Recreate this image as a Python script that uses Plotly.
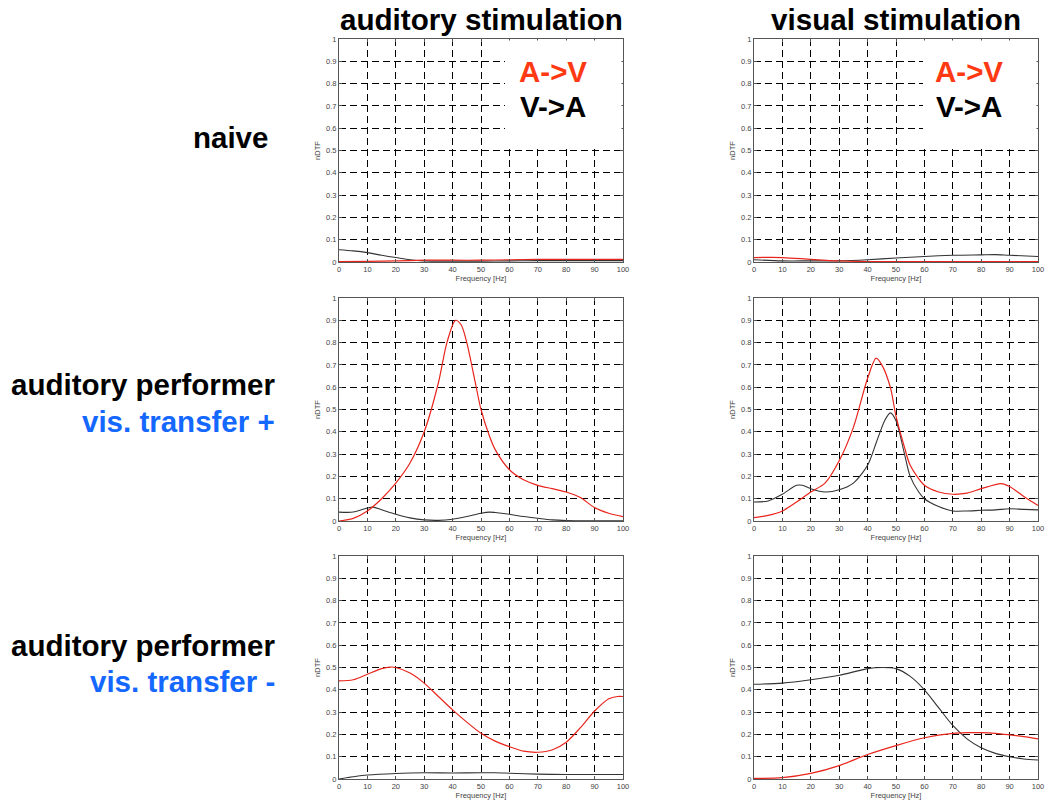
import plotly.graph_objects as go
from plotly.subplots import make_subplots

W, H = 1048, 803

col_titles = ["auditory stimulation", "visual stimulation"]

# Row 1: naive
f_n_a_red = [0, 10, 20, 30, 40, 50, 60, 70, 80, 90, 100]
v_n_a_red = [0.002, 0.003, 0.005, 0.008, 0.008, 0.008, 0.01, 0.012, 0.012, 0.012, 0.012]
f_n_a_blk = [0, 5, 10, 15, 20, 25, 30, 40, 50, 60, 70, 80, 90, 100]
v_n_a_blk = [0.055, 0.05, 0.042, 0.03, 0.02, 0.01, 0.005, 0.004, 0.004, 0.005, 0.006, 0.006, 0.006, 0.006]

f_n_v_red = [0, 10, 20, 30, 40, 50, 60, 70, 80, 90, 100]
v_n_v_red = [0.02, 0.02, 0.012, 0.005, 0.002, 0.002, 0.002, 0.002, 0.002, 0.002, 0.002]
f_n_v_blk = [0, 10, 20, 30, 40, 50, 60, 70, 80, 85, 90, 100]
v_n_v_blk = [0.01, 0.005, 0.005, 0.005, 0.01, 0.018, 0.025, 0.03, 0.032, 0.033, 0.03, 0.025]

# Row 2: auditory performer, vis. transfer +
f_p_a_red = [0, 5, 10, 15, 20, 25, 30, 35, 38, 41, 43, 45, 48, 50, 53, 55, 60, 65, 70, 75, 80, 85, 90, 95, 100]
v_p_a_red = [0.0, 0.012, 0.045, 0.1, 0.17, 0.26, 0.4, 0.62, 0.8, 0.9, 0.88, 0.8, 0.62, 0.5, 0.38, 0.32, 0.23, 0.185, 0.16, 0.145, 0.13, 0.105, 0.06, 0.035, 0.02]
f_p_a_blk = [0, 5, 10, 12, 15, 20, 25, 30, 35, 40, 45, 50, 53, 55, 60, 65, 70, 75, 80, 90, 100]
v_p_a_blk = [0.04, 0.04, 0.058, 0.062, 0.05, 0.03, 0.014, 0.005, 0.003, 0.008, 0.02, 0.035, 0.04, 0.038, 0.03, 0.02, 0.012, 0.005, 0.002, 0.001, 0.001]

f_p_v_red = [0, 5, 10, 15, 20, 25, 30, 35, 40, 43, 45, 48, 50, 53, 55, 60, 65, 70, 75, 80, 87, 90, 95, 100]
v_p_v_red = [0.015, 0.025, 0.045, 0.085, 0.13, 0.17, 0.27, 0.42, 0.64, 0.73, 0.7, 0.6, 0.47, 0.33, 0.25, 0.16, 0.13, 0.12, 0.125, 0.145, 0.168, 0.155, 0.11, 0.07]
f_p_v_blk = [0, 5, 10, 15, 17, 20, 25, 30, 35, 40, 43, 46, 48, 50, 53, 55, 58, 60, 65, 70, 75, 80, 85, 90, 95, 100]
v_p_v_blk = [0.085, 0.09, 0.12, 0.16, 0.16, 0.145, 0.13, 0.14, 0.17, 0.25, 0.35, 0.45, 0.485, 0.45, 0.3, 0.2, 0.13, 0.1, 0.065, 0.045, 0.045, 0.048, 0.05, 0.055, 0.052, 0.05]

# Row 3: auditory performer, vis. transfer -
f_m_a_red = [0, 5, 10, 15, 18, 20, 25, 30, 35, 40, 45, 50, 55, 60, 65, 70, 75, 80, 85, 90, 95, 98, 100]
v_m_a_red = [0.44, 0.445, 0.47, 0.495, 0.502, 0.5, 0.475, 0.43, 0.37, 0.31, 0.255, 0.205, 0.17, 0.145, 0.125, 0.12, 0.13, 0.165, 0.23, 0.305, 0.36, 0.37, 0.37]
f_m_a_blk = [0, 5, 10, 20, 30, 40, 50, 55, 60, 70, 80, 90, 100]
v_m_a_blk = [0.0, 0.01, 0.018, 0.025, 0.028, 0.027, 0.028, 0.028, 0.026, 0.022, 0.02, 0.02, 0.02]

f_m_v_red = [0, 10, 20, 30, 40, 50, 60, 70, 75, 80, 85, 90, 95, 100]
v_m_v_red = [0.003, 0.006, 0.025, 0.06, 0.11, 0.15, 0.185, 0.205, 0.208, 0.208, 0.205, 0.198, 0.19, 0.18]
f_m_v_blk = [0, 10, 20, 30, 40, 45, 50, 55, 60, 65, 70, 75, 80, 85, 90, 95, 100]
v_m_v_blk = [0.425, 0.43, 0.445, 0.465, 0.495, 0.5, 0.495, 0.46, 0.4, 0.32, 0.24, 0.18, 0.14, 0.115, 0.1, 0.09, 0.085]

panels = [
    [(f_n_a_red, v_n_a_red, f_n_a_blk, v_n_a_blk), (f_n_v_red, v_n_v_red, f_n_v_blk, v_n_v_blk)],
    [(f_p_a_red, v_p_a_red, f_p_a_blk, v_p_a_blk), (f_p_v_red, v_p_v_red, f_p_v_blk, v_p_v_blk)],
    [(f_m_a_red, v_m_a_red, f_m_a_blk, v_m_a_blk), (f_m_v_red, v_m_v_red, f_m_v_blk, v_m_v_blk)],
]

y_ticks = [0, 0.1, 0.2, 0.3, 0.4, 0.5, 0.6, 0.7, 0.8, 0.9, 1]
y_ticktext = ["0", "0.1", "0.2", "0.3", "0.4", "0.5", "0.6", "0.7", "0.8", "0.9", "1"]
x_ticks = [0, 10, 20, 30, 40, 50, 60, 70, 80, 90, 100]

RED = "#e8251c"
BLK = "#333333"


def px(p):
    return p / W


def py(p):
    return 1 - p / H


# page-pixel boxes of plot areas
col_px = [(339, 623), (754, 1038)]
row_px = [(39, 262), (298, 521), (556, 779)]

TICKFONT = dict(family="Liberation Sans, Arial", size=7.5, color="#444")

fig = make_subplots(rows=3, cols=2)

for r in range(3):
    for c in range(2):
        fr, vr, fb, vb = panels[r][c]
        fig.add_trace(go.Scatter(x=fb, y=vb, mode="lines", line=dict(color=BLK, width=1.1, shape="spline", smoothing=0.8),
                                 showlegend=False, hoverinfo="skip"), row=r + 1, col=c + 1)
        fig.add_trace(go.Scatter(x=fr, y=vr, mode="lines", line=dict(color=RED, width=1.2, shape="spline", smoothing=0.8),
                                 showlegend=False, hoverinfo="skip"), row=r + 1, col=c + 1)
        x0, x1 = col_px[c]
        y0, y1 = row_px[r]
        fig.update_xaxes(domain=[px(x0), px(x1)], range=[0, 100], tickvals=x_ticks, automargin=False,
                         showgrid=True, gridcolor="black", gridwidth=1, griddash="7px,4px",
                         zeroline=False, showline=True, linecolor="#555", linewidth=1, mirror="ticks",
                         ticks="inside", ticklen=3, tickcolor="#555",
                         tickfont=TICKFONT,
                         title=dict(text="Frequency [Hz]", standoff=1, font=TICKFONT),
                         row=r + 1, col=c + 1)
        fig.update_yaxes(domain=[py(y1), py(y0)], range=[0, 1], tickvals=y_ticks, ticktext=y_ticktext, automargin=False,
                         showgrid=True, gridcolor="black", gridwidth=1, griddash="7px,4px",
                         zeroline=False, showline=True, linecolor="#555", linewidth=1, mirror="ticks",
                         ticks="inside", ticklen=3, tickcolor="#555",
                         tickfont=TICKFONT,
                         title=dict(text="nDTF", standoff=4, font=TICKFONT),
                         row=r + 1, col=c + 1)

annotations = []
FONT = "Liberation Sans, Arial"
for t, cx in zip(col_titles, [481, 896]):
    annotations.append(dict(text=t, x=px(cx), y=py(20), xref="paper", yref="paper", xanchor="center", yanchor="middle",
                            showarrow=False, font=dict(family=FONT, size=29.6, color="black", weight="bold")))

row_labels = [
    ("naive", "black", 230, 137, "center"),
    ("auditory performer", "black", 277, 385, "right"),
    ("vis. transfer +", "#1467ff", 277, 421, "right"),
    ("auditory performer", "black", 277, 645, "right"),
    ("vis. transfer -", "#1467ff", 277, 681, "right"),
]
for t, col, x, y, anc in row_labels:
    annotations.append(dict(text=t, x=px(x), y=py(y), xref="paper", yref="paper", xanchor=anc, yanchor="middle",
                            showarrow=False, font=dict(family=FONT, size=29.5, color=col, weight="bold")))

for cx in [553, 969]:
    annotations.append(dict(text="A->V", x=px(cx), y=py(71), xref="paper", yref="paper", xanchor="center", yanchor="middle",
                            showarrow=False, font=dict(family=FONT, size=29.5, color="#ff3a12", weight="bold")))
    annotations.append(dict(text="V->A", x=px(cx), y=py(107), xref="paper", yref="paper", xanchor="center", yanchor="middle",
                            showarrow=False, font=dict(family=FONT, size=29.5, color="black", weight="bold")))

shapes = [
    dict(type="rect", xref="paper", yref="paper", x0=px(505), x1=px(621.5), y0=py(147), y1=py(40.5),
         fillcolor="white", line=dict(width=0), layer="above"),
    dict(type="rect", xref="paper", yref="paper", x0=px(923), x1=px(1036.5), y0=py(146), y1=py(40.5),
         fillcolor="white", line=dict(width=0), layer="above"),
]

fig.update_layout(width=W, height=H, margin=dict(l=0, r=0, t=0, b=0, autoexpand=False),
                  paper_bgcolor="white", plot_bgcolor="white",
                  annotations=annotations, shapes=shapes, showlegend=False)

fig.write_html("out.html", config={"displayModeBar": False, "responsive": False},
               post_script="document.body.style.margin='0px';document.body.style.padding='0px';"
                           "document.documentElement.style.overflow='hidden';")
